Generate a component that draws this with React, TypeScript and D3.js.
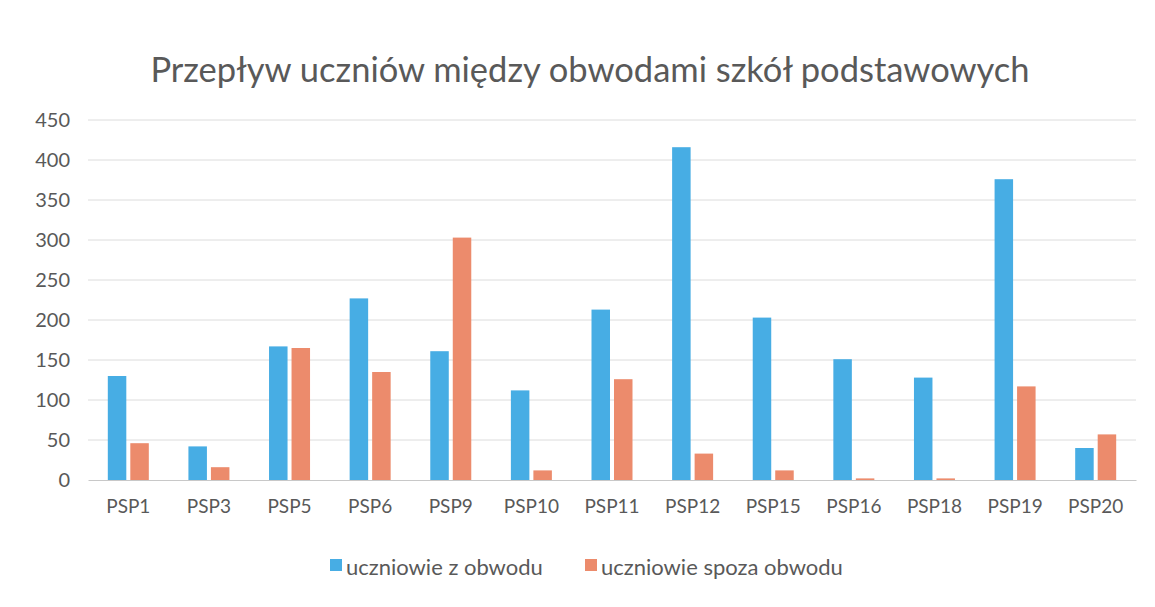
// @ts-nocheck
import React, { useEffect, useRef } from "react";
import { select, scaleBand, scaleLinear, axisLeft, axisBottom } from "d3";

const categories = [
  "PSP1", "PSP3", "PSP5", "PSP6", "PSP9", "PSP10", "PSP11",
  "PSP12", "PSP15", "PSP16", "PSP18", "PSP19", "PSP20",
];
const zObwodu = [130, 42, 167, 227, 161, 112, 213, 416, 203, 151, 128, 376, 40];
const spozaObwodu = [46, 16, 165, 135, 303, 12, 126, 33, 12, 2, 2, 117, 57];
const yTicks = [0, 50, 100, 150, 200, 250, 300, 350, 400, 450];
const seriesNames = ["uczniowie z obwodu", "uczniowie spoza obwodu"];
const colors = ["#47ade4", "#ec8b6c"];

const FONT = "Lato, 'Open Sans', sans-serif";

const App = () => {
  const ref = useRef(null);

  useEffect(() => {
    const root = select(ref.current);
    root.selectAll("*").remove();

    const W = 1155;
    const H = 607;
    const margin = { top: 120, right: 19, bottom: 127, left: 88 };
    const width = W - margin.left - margin.right;
    const height = H - margin.top - margin.bottom;

    const svg = root
      .append("svg")
      .attr("width", W)
      .attr("height", H)
      .style("display", "block")
      .style("background", "#ffffff");

    svg
      .append("text")
      .attr("x", 590)
      .attr("y", 82)
      .attr("text-anchor", "middle")
      .attr("font-family", FONT)
      .attr("font-size", 34.5)
      .attr("fill", "#595959")
      .text("Przepływ uczniów między obwodami szkół podstawowych");

    const g = svg
      .append("g")
      .attr("transform", `translate(${margin.left},${margin.top})`);

    const x = scaleBand().domain(categories).range([0, width]);
    const y = scaleLinear().domain([0, 450]).range([height, 0]);

    // gridlines
    g.append("g")
      .selectAll("line")
      .data(yTicks.slice(1))
      .join("line")
      .attr("x1", 0)
      .attr("x2", width)
      .attr("y1", (d) => y(d))
      .attr("y2", (d) => y(d))
      .attr("stroke", "#dcdcdc")
      .attr("stroke-width", 1);

    // y axis labels
    const yAxis = g
      .append("g")
      .call(axisLeft(y).tickValues(yTicks).tickSize(0).tickPadding(18));
    yAxis.select(".domain").remove();
    yAxis
      .selectAll("text")
      .attr("font-family", FONT)
      .attr("font-size", 20)
      .attr("fill", "#595959");

    // bars
    const barW = 18.5;
    const gap = 4;
    const pairW = barW * 2 + gap;
    const series = [zObwodu, spozaObwodu];
    series.forEach((vals, si) => {
      g.append("g")
        .selectAll("rect")
        .data(vals)
        .join("rect")
        .attr(
          "x",
          (d, i) =>
            x(categories[i]) + (x.bandwidth() - pairW) / 2 + si * (barW + gap)
        )
        .attr("y", (d) => y(d))
        .attr("width", barW)
        .attr("height", (d) => y(0) - y(d))
        .attr("fill", colors[si]);
    });

    // x axis
    const xAxis = g
      .append("g")
      .attr("transform", `translate(0,${height})`)
      .call(axisBottom(x).tickSize(0).tickPadding(20));
    xAxis.select(".domain").attr("stroke", "#c8c8c8");
    xAxis
      .selectAll("text")
      .attr("font-family", FONT)
      .attr("font-size", 19)
      .attr("fill", "#595959");

    // legend
    const legend = svg.append("g").attr("transform", "translate(0,568)");
    const legendX = [330, 585];
    seriesNames.forEach((name, i) => {
      legend
        .append("rect")
        .attr("x", legendX[i])
        .attr("y", -9)
        .attr("width", 12)
        .attr("height", 12)
        .attr("fill", colors[i]);
      legend
        .append("text")
        .attr("x", legendX[i] + 16)
        .attr("y", 0)
        .attr("dy", "0.32em")
        .attr("font-family", FONT)
        .attr("font-size", 22)
        .attr("fill", "#595959")
        .text(name);
    });
  }, []);

  return <div ref={ref} style={{ margin: -8 }}></div>;
};

export default App;
